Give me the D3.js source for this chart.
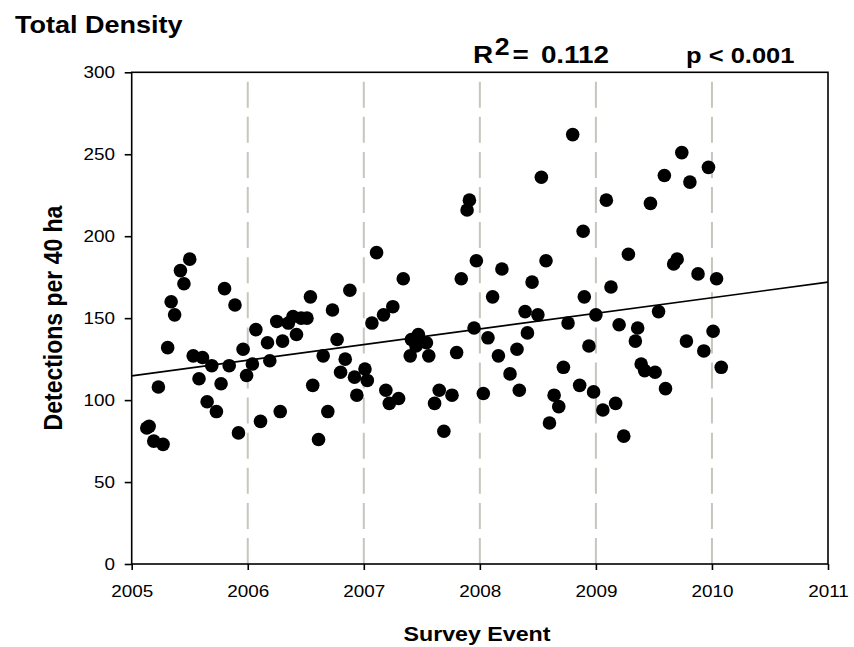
<!DOCTYPE html>
<html>
<head>
<meta charset="utf-8">
<script src="https://cdn.jsdelivr.net/npm/d3@7"></script>
<style>
  html, body { margin: 0; padding: 0; background: #ffffff; }
  svg { display: block; }
</style>
</head>
<body>
<script>
// Survey dates (decimal years) and total density per survey
const surveyDate = [
  2005.13, 2005.15, 2005.19, 2005.27, 2005.23, 2005.31, 2005.34, 2005.37, 2005.42, 2005.45,
  2005.50, 2005.53, 2005.58, 2005.61, 2005.65, 2005.69, 2005.73, 2005.77, 2005.80, 2005.84,
  2005.89, 2005.92, 2005.96, 2005.99, 2006.04, 2006.07, 2006.11, 2006.17, 2006.19, 2006.25,
  2006.28, 2006.30, 2006.35, 2006.39, 2006.42, 2006.46, 2006.51, 2006.54, 2006.56, 2006.61,
  2006.65, 2006.69, 2006.73, 2006.77, 2006.80, 2006.84, 2006.88, 2006.92, 2006.94, 2007.01,
  2007.03, 2007.07, 2007.11, 2007.17, 2007.19, 2007.22, 2007.25, 2007.30, 2007.34, 2007.40,
  2007.41, 2007.45, 2007.47, 2007.54, 2007.56, 2007.61, 2007.65, 2007.69, 2007.76, 2007.80,
  2007.84, 2007.89, 2007.91, 2007.95, 2007.97, 2008.03, 2008.07, 2008.11, 2008.16, 2008.19,
  2008.26, 2008.32, 2008.34, 2008.39, 2008.41, 2008.45, 2008.50, 2008.53, 2008.57, 2008.60,
  2008.64, 2008.68, 2008.72, 2008.76, 2008.80, 2008.86, 2008.89, 2008.90, 2008.94, 2008.98,
  2009.00, 2009.06, 2009.09, 2009.13, 2009.17, 2009.20, 2009.24, 2009.28, 2009.34, 2009.36,
  2009.39, 2009.42, 2009.47, 2009.51, 2009.54, 2009.59, 2009.60, 2009.67, 2009.70, 2009.74,
  2009.78, 2009.81, 2009.88, 2009.93, 2009.97, 2010.01, 2010.04, 2010.08
];
const density = [
  83, 84, 75, 73, 108, 132, 160, 152, 179, 171,
  186, 127, 113, 126, 99, 121, 93, 110, 168, 121,
  158, 80, 131, 115, 122, 143, 87, 135, 124, 148,
  93, 136, 147, 151, 140, 150, 150, 163, 109, 76,
  127, 93, 155, 137, 117, 125, 167, 114, 103, 119,
  112, 147, 190, 152, 106, 98, 157, 101, 174, 127,
  137, 133, 140, 135, 127, 98, 106, 81, 103, 129,
  174, 216, 222, 144, 185, 104, 138, 163, 127, 180,
  116, 131, 106, 154, 141, 172, 152, 236, 185, 86,
  103, 96, 120, 147, 262, 109, 203, 163, 133, 105,
  152, 94, 222, 169, 98, 146, 78, 189, 136, 144,
  122, 118, 220, 117, 154, 237, 107, 183, 186, 251,
  136, 233, 177, 130, 242, 142, 174, 120
];

// Fitted regression line (ends of the axis range)
const trendYear = [2005, 2011];
const trendValue = [114.8, 172.0];

// Axis ticks and year separators
const xTicks = [2005, 2006, 2007, 2008, 2009, 2010, 2011];
const yTicks = [0, 50, 100, 150, 200, 250, 300];
const yearLines = [2006, 2007, 2008, 2009, 2010];

const titleText = "Total Density";
const xLabel = "Survey Event";
const yLabel = "Detections per 40 ha";
const r2Value = "0.112";
const pText = "p < 0.001";

const W = 854, H = 647;
const FONT = "'Liberation Sans', Arial, Helvetica, sans-serif";
const SX = 1.16; // horizontal stretch of all lettering

const svg = d3.select("body").append("svg")
  .attr("width", W).attr("height", H)
  .style("background", "#ffffff");

const x = d3.scaleLinear().domain([2005, 2011]).range([131.7, 828]);
const y = d3.scaleLinear().domain([0, 300]).range([564, 72.3]);

// dashed year separators
svg.append("g").selectAll("line").data(yearLines).join("line")
  .attr("x1", d => x(d)).attr("x2", d => x(d))
  .attr("y1", y(0)).attr("y2", y(300))
  .attr("stroke", "#c6c6be").attr("stroke-width", 2)
  .attr("stroke-dasharray", "26,9.1");

// regression line
svg.append("path")
  .datum(trendYear.map((t, i) => [t, trendValue[i]]))
  .attr("d", d3.line().x(d => x(d[0])).y(d => y(d[1])))
  .attr("fill", "none").attr("stroke", "#000").attr("stroke-width", 1.6);

// survey points
svg.append("g").selectAll("circle").data(surveyDate.map((t, i) => [t, density[i]])).join("circle")
  .attr("cx", d => x(d[0])).attr("cy", d => y(d[1]))
  .attr("r", 6.8).attr("fill", "#000");

// frame
svg.append("rect")
  .attr("x", x(2005)).attr("y", y(300))
  .attr("width", x(2011) - x(2005)).attr("height", y(0) - y(300))
  .attr("fill", "none").attr("stroke", "#000").attr("stroke-width", 1.6);

// x axis
const gx = svg.append("g").attr("transform", `translate(0,${y(0)})`)
  .call(d3.axisBottom(x).tickValues(xTicks).tickFormat(d3.format("d"))
    .tickSize(6).tickPadding(15).tickSizeOuter(0));
gx.select(".domain").remove();
gx.selectAll(".tick line").attr("stroke", "#000").attr("stroke-width", 1.6);
gx.selectAll(".tick text")
  .attr("font-family", FONT).attr("font-size", 16.3).attr("fill", "#000")
  .attr("transform", `scale(${SX},1)`);

// y axis
const gy = svg.append("g").attr("transform", `translate(${x(2005)},0)`)
  .call(d3.axisLeft(y).tickValues(yTicks).tickFormat(d3.format("d"))
    .tickSize(7).tickPadding(8).tickSizeOuter(0));
gy.select(".domain").remove();
gy.selectAll(".tick line").attr("stroke", "#000").attr("stroke-width", 1.6);
gy.selectAll(".tick text")
  .attr("font-family", FONT).attr("font-size", 16.3).attr("fill", "#000")
  .attr("x", -16.7 / SX)
  .attr("transform", `scale(${SX},1)`);

function label(px, py, str, size, anchor, rotate) {
  return svg.append("text")
    .attr("transform", `translate(${px},${py}) scale(${SX},1)` + (rotate ? ` rotate(${rotate})` : ""))
    .attr("font-family", FONT).attr("font-size", size).attr("font-weight", "bold")
    .attr("text-anchor", anchor).attr("fill", "#000")
    .text(str);
}

label(15, 33, titleText, 23.3, "start");
label(477, 641, xLabel, 20, "middle");
label(62, 318, yLabel, 23, "middle", -90);

// R-squared: letter with superscript, value set to the right
const r2 = svg.append("text")
  .attr("transform", `translate(473,63) scale(${SX},1)`)
  .attr("font-family", FONT).attr("font-size", 24).attr("font-weight", "bold")
  .attr("fill", "#000");
r2.append("tspan").text("R");
r2.append("tspan").attr("dx", 1.5).attr("dy", -8).attr("font-size", 23).text("2");
r2.append("tspan").attr("dx", 2.5).attr("dy", 8).text("=");
label(609, 63, r2Value, 24, "end");

label(686, 63, pText, 22, "start");
</script>
</body>
</html>
